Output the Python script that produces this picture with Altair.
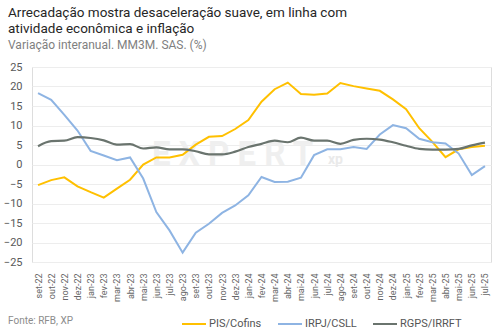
import altair as alt
import pandas as pd

months = ["set-22", "out-22", "nov-22", "dez-22",
          "jan-23", "fev-23", "mar-23", "abr-23", "mai-23", "jun-23", "jul-23", "ago-23",
          "set-23", "out-23", "nov-23", "dez-23",
          "jan-24", "fev-24", "mar-24", "abr-24", "mai-24", "jun-24", "jul-24", "ago-24",
          "set-24", "out-24", "nov-24", "dez-24",
          "jan-25", "fev-25", "mar-25", "abr-25", "mai-25", "jun-25", "jul-25"]

pis_cofins = [-5.3, -4.0, -3.3, -5.6, -7.1, -8.5, -6.2, -3.9, 0.0, 1.8, 1.8, 2.5,
              5.1, 7.1, 7.3, 9.1, 11.4, 16.1, 19.3, 21.0, 18.1, 17.9, 18.2, 20.9,
              20.1, 19.5, 18.9, 16.7, 14.2, 9.3, 5.8, 1.9, 3.9, 4.5, 4.8]

irpj_csll = [18.3, 16.6, 12.7, 8.7, 3.5, 2.3, 1.1, 1.8, -3.6, -12.2, -16.9, -22.6,
             -17.5, -15.2, -12.4, -10.5, -7.9, -3.2, -4.5, -4.4, -3.4, 2.4, 3.9, 3.9,
             4.5, 4.0, 7.7, 10.1, 9.3, 6.6, 5.7, 5.4, 2.8, -2.7, -0.4]

rgps_irrft = [4.7, 6.0, 6.1, 7.0, 6.8, 6.2, 5.1, 5.2, 4.1, 4.4, 3.9, 3.9,
              3.4, 2.6, 2.6, 3.3, 4.5, 5.3, 6.1, 5.7, 6.9, 6.1, 6.1, 5.3,
              6.3, 6.6, 6.4, 5.7, 4.8, 4.0, 3.8, 3.8, 4.0, 4.9, 5.6]

series_names = ["PIS/Cofins", "IRPJ/CSLL", "RGPS/IRRFT"]
series_colors = ["#FFC000", "#8EB4E3", "#6A746E"]

title_lines = ["Arrecadação mostra desaceleração suave, em linha com",
               "atividade econômica e inflação"]
subtitle = "Variação interanual. MM3M. SAS. (%)"
source = "Fonte: RFB, XP"

FONT = "Roboto"

rows = []
for name, vals in zip(series_names, [pis_cofins, irpj_csll, rgps_irrft]):
    for m, v in zip(months, vals):
        rows.append({"mes": m, "valor": v, "serie": name})
df = pd.DataFrame(rows)

x_enc = alt.X("mes:O", sort=months,
              scale=alt.Scale(type="point", padding=0.46),
              axis=alt.Axis(title=None, labelAngle=270, ticks=False, domain=False,
                            values=months,
                            labelPadding=11, labelFontSize=9, labelColor="#666666",
                            labelFont=FONT, grid=False, labelOverlap=False,
                            labelSeparation=0))
y_enc = alt.Y("valor:Q",
              scale=alt.Scale(domain=[-25, 25], nice=False),
              axis=alt.Axis(title=None, values=list(range(-25, 30, 5)), ticks=False,
                            domain=False, labelPadding=10, labelFontSize=11,
                            labelColor="#595959", labelFont=FONT,
                            gridColor="#EDEDED", gridWidth=1))
color_enc = alt.Color("serie:N",
                      scale=alt.Scale(domain=series_names, range=series_colors),
                      legend=alt.Legend(title=None, orient="none", direction="horizontal",
                                        legendX=149, legendY=244,
                                        symbolType="stroke", symbolSize=576,
                                        symbolStrokeWidth=2, labelOffset=2,
                                        columnPadding=12, labelFont=FONT,
                                        labelFontSize=11, labelColor="#555555"))

watermark = alt.Chart(pd.DataFrame({"t": ["E X P E R T"]})).mark_text(
    font=FONT, fontSize=33, fontWeight="bold", color="#EFEFEF", align="left",
    baseline="alphabetic"
).encode(text="t:N", x=alt.value(120), y=alt.value(98))

wm2 = alt.Chart(pd.DataFrame({"t": ["xp"]})).mark_text(
    font=FONT, fontSize=14, fontWeight="bold", color="#EAEAEA", align="left",
    baseline="alphabetic"
).encode(text="t:N", x=alt.value(296), y=alt.value(97))

lines_straight = alt.Chart(df).transform_filter(
    alt.FieldOneOfPredicate(field="serie", oneOf=["PIS/Cofins", "IRPJ/CSLL"])
).mark_line(strokeWidth=2).encode(x=x_enc, y=y_enc, color=color_enc)

line_smooth = alt.Chart(df).transform_filter(
    alt.FieldEqualPredicate(field="serie", equal="RGPS/IRRFT")
).mark_line(strokeWidth=2.2, interpolate="monotone").encode(x=x_enc, y=y_enc, color=color_enc)

texts = []
for txt, yy, size, col in [(title_lines[0], -50, 13.5, "#262626"),
                           (title_lines[1], -34, 13.5, "#262626"),
                           (subtitle, -18, 12, "#7F7F7F"),
                           (source, 257, 10, "#8C8C8C")]:
    texts.append(alt.Chart(pd.DataFrame({"t": [txt]})).mark_text(
        font=FONT, fontSize=size, color=col, align="left", baseline="alphabetic"
    ).encode(text="t:N", x=alt.value(-24), y=alt.value(yy)))

chart = alt.layer(watermark, wm2, lines_straight, line_smooth, *texts).properties(
    width=459, height=195,
    autosize=alt.AutoSizeParams(type="none"),
    padding={"left": 32, "top": 67, "right": 11, "bottom": 72}
).configure_view(stroke=None).configure(background="white").configure_axisX(
    labelOverlap=False
)

chart.save("out.html", embed_options={"renderer": "svg", "actions": False})
